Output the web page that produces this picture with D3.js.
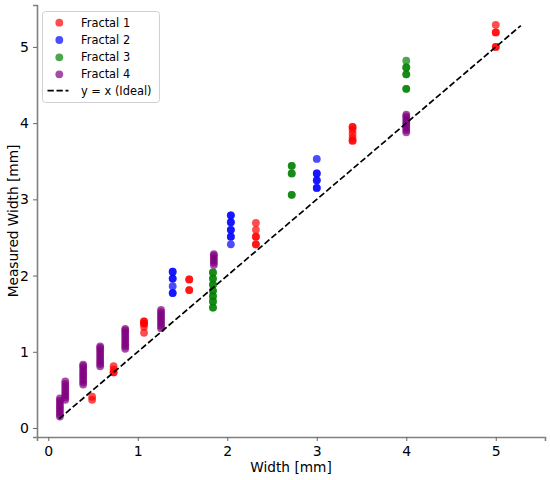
<!DOCTYPE html>
<html>
<head>
<meta charset="utf-8">
<script src="https://cdn.jsdelivr.net/npm/d3@7"></script>
<style>
  body { margin: 0; background: #fff; }
  text { font-family: "DejaVu Sans", sans-serif; fill: #000; }
</style>
</head>
<body>
<div id="chart"></div>
<script>
// Fractal 1 (red) - repeated measurements land on the same spot
var f1Width    = [0.49, 0.49, 0.73, 0.73, 0.73, 0.73, 1.07, 1.07, 1.07, 1.07, 1.07, 1.07,
                  1.575, 1.575, 1.575, 1.575,
                  2.32, 2.32, 2.32, 2.32, 2.32, 2.32,
                  3.40, 3.40, 3.40, 3.40, 3.40, 3.40, 3.40,
                  5.0, 5.0, 5.0, 5.0, 5.0];
var f1Measured = [0.37, 0.41, 0.73, 0.73, 0.77, 0.81, 1.25, 1.33, 1.37, 1.37, 1.40, 1.40,
                  1.81, 1.81, 1.95, 1.95,
                  2.41, 2.41, 2.51, 2.51, 2.60, 2.69,
                  3.77, 3.77, 3.81, 3.86, 3.91, 3.95, 3.95,
                  5.00, 5.00, 5.19, 5.19, 5.29];
// Fractal 2 (blue)
var f2Width    = [1.39, 1.39, 1.39, 1.39, 1.39, 1.39, 1.39,
                  2.04, 2.04, 2.04, 2.04, 2.04, 2.04, 2.04, 2.04, 2.04,
                  3.0, 3.0, 3.0, 3.0, 3.0, 3.0, 3.0];
var f2Measured = [1.77, 1.77, 1.86, 1.96, 1.96, 2.05, 2.05,
                  2.41, 2.51, 2.51, 2.60, 2.60, 2.70, 2.70, 2.79, 2.79,
                  3.15, 3.15, 3.25, 3.25, 3.34, 3.34, 3.53];
// Fractal 3 (green)
var f3Width    = [1.84, 1.84, 1.84, 1.84, 1.84, 1.84, 1.84, 1.84, 1.84, 1.84, 1.84, 1.84, 1.84, 1.84,
                  2.72, 2.72, 2.72, 2.72, 2.72, 2.72,
                  4.0, 4.0, 4.0, 4.0, 4.0, 4.0, 4.0];
var f3Measured = [1.58, 1.58, 1.66, 1.66, 1.73, 1.73, 1.80, 1.80, 1.88, 1.88, 1.96, 1.96, 2.04, 2.04,
                  3.06, 3.06, 3.34, 3.34, 3.44, 3.44,
                  4.45, 4.45, 4.64, 4.64, 4.73, 4.73, 4.82];
// Fractal 4 (purple)
var f4Width    = [0.13, 0.13, 0.13, 0.13, 0.13, 0.13, 0.13, 0.13, 0.13,
                  0.19, 0.19, 0.19, 0.19, 0.19, 0.19, 0.19, 0.19, 0.19,
                  0.39, 0.39, 0.39, 0.39, 0.39, 0.39, 0.39, 0.39, 0.39, 0.39,
                  0.58, 0.58, 0.58, 0.58, 0.58, 0.58, 0.58, 0.58, 0.58, 0.58,
                  0.86, 0.86, 0.86, 0.86, 0.86, 0.86, 0.86, 0.86, 0.86, 0.86,
                  1.26, 1.26, 1.26, 1.26, 1.26, 1.26, 1.26, 1.26, 1.26,
                  1.85, 1.85, 1.85, 1.85, 1.85, 1.85,
                  4.0, 4.0, 4.0, 4.0, 4.0, 4.0, 4.0, 4.0, 4.0];
var f4Measured = [0.15, 0.18, 0.21, 0.24, 0.27, 0.30, 0.33, 0.36, 0.39,
                  0.37, 0.40, 0.43, 0.46, 0.49, 0.52, 0.55, 0.58, 0.61,
                  0.57, 0.60, 0.63, 0.66, 0.69, 0.72, 0.75, 0.78, 0.81, 0.83,
                  0.81, 0.84, 0.87, 0.90, 0.93, 0.96, 0.99, 1.02, 1.05, 1.07,
                  1.04, 1.07, 1.10, 1.13, 1.16, 1.19, 1.22, 1.25, 1.28, 1.30,
                  1.31, 1.34, 1.37, 1.40, 1.43, 1.46, 1.49, 1.52, 1.55,
                  2.14, 2.17, 2.20, 2.23, 2.26, 2.28,
                  3.88, 3.91, 3.94, 3.97, 4.00, 4.03, 4.06, 4.09, 4.11];

var seriesNames  = ['Fractal 1', 'Fractal 2', 'Fractal 3', 'Fractal 4'];
var seriesColors = ['#ff0000', '#0000ff', '#008000', '#800080'];
var idealRange   = [0.12, 5.28];
var xTicks = [0, 1, 2, 3, 4, 5];
var yTicks = [0, 1, 2, 3, 4, 5];

var width = 550, height = 480;
var plotLeft = 37, plotRight = 545, plotTop = 5, plotBottom = 437;

var svg = d3.select('#chart').append('svg')
    .attr('width', width)
    .attr('height', height);

var x = d3.scaleLinear().domain([-0.126, 5.55]).range([plotLeft, plotRight]);
var y = d3.scaleLinear().domain([-0.118, 5.55]).range([plotBottom, plotTop]);

// axes
var xAxis = svg.append('g')
    .attr('transform', 'translate(0,' + plotBottom + ')')
    .call(d3.axisBottom(x).tickValues(xTicks).tickSize(4).tickPadding(5).tickFormat(d3.format('d')));
var yAxis = svg.append('g')
    .attr('transform', 'translate(' + plotLeft + ',0)')
    .call(d3.axisLeft(y).tickValues(yTicks).tickSize(4).tickPadding(4).tickFormat(d3.format('d')));

[xAxis, yAxis].forEach(function (g) {
    g.select('.domain').attr('stroke', '#808080').attr('stroke-width', 1.6);
    g.selectAll('.tick line').attr('stroke', '#666').attr('stroke-width', 1);
    g.selectAll('.tick text').style('font-size', '14px').style('font-family', '"DejaVu Sans", sans-serif').attr('fill', '#000');
});

// axis labels
svg.append('text')
    .attr('x', (plotLeft + plotRight) / 2).attr('y', 472)
    .attr('text-anchor', 'middle')
    .style('font-size', '13.7px')
    .text('Width [mm]');
svg.append('text')
    .attr('transform', 'translate(18,' + ((plotTop + plotBottom) / 2) + ')rotate(-90)')
    .attr('text-anchor', 'middle')
    .style('font-size', '13.7px')
    .text('Measured Width [mm]');

// scatter points
var widths = [f1Width, f2Width, f3Width, f4Width];
var measured = [f1Measured, f2Measured, f3Measured, f4Measured];
widths.forEach(function (ws, i) {
    svg.append('g').selectAll('circle')
        .data(ws.map(function (w, j) { return [w, measured[i][j]]; }))
        .enter().append('circle')
        .attr('cx', function (d) { return x(d[0]); })
        .attr('cy', function (d) { return y(d[1]); })
        .attr('r', 3.9)
        .attr('fill', seriesColors[i])
        .attr('fill-opacity', 0.7);
});

// ideal line
svg.append('line')
    .attr('x1', x(idealRange[0])).attr('y1', y(idealRange[0]))
    .attr('x2', x(idealRange[1])).attr('y2', y(idealRange[1]))
    .attr('stroke', '#000')
    .attr('stroke-width', 1.7)
    .attr('stroke-dasharray', '6.3,2.7');

// legend
var legend = svg.append('g');
legend.append('rect')
    .attr('x', 42.5).attr('y', 11.5)
    .attr('width', 117).attr('height', 91)
    .attr('rx', 3)
    .attr('fill', '#fff').attr('fill-opacity', 0.8)
    .attr('stroke', '#d0d0d0').attr('stroke-width', 1);

var rowY = [22.7, 40, 57.3, 74.3, 90.7];
seriesNames.forEach(function (name, i) {
    legend.append('circle')
        .attr('cx', 59.3).attr('cy', rowY[i]).attr('r', 3.9)
        .attr('fill', seriesColors[i]).attr('fill-opacity', 0.7);
    legend.append('text')
        .attr('x', 81).attr('y', rowY[i] + 4)
        .style('font-size', '11.4px')
        .text(name);
});
legend.append('line')
    .attr('x1', 47.5).attr('x2', 68.5)
    .attr('y1', rowY[4]).attr('y2', rowY[4])
    .attr('stroke', '#000').attr('stroke-width', 1.7)
    .attr('stroke-dasharray', '6.3,2.7');
legend.append('text')
    .attr('x', 81).attr('y', rowY[4] + 4)
    .style('font-size', '11.4px')
    .text('y = x (Ideal)');
</script>
</body>
</html>
